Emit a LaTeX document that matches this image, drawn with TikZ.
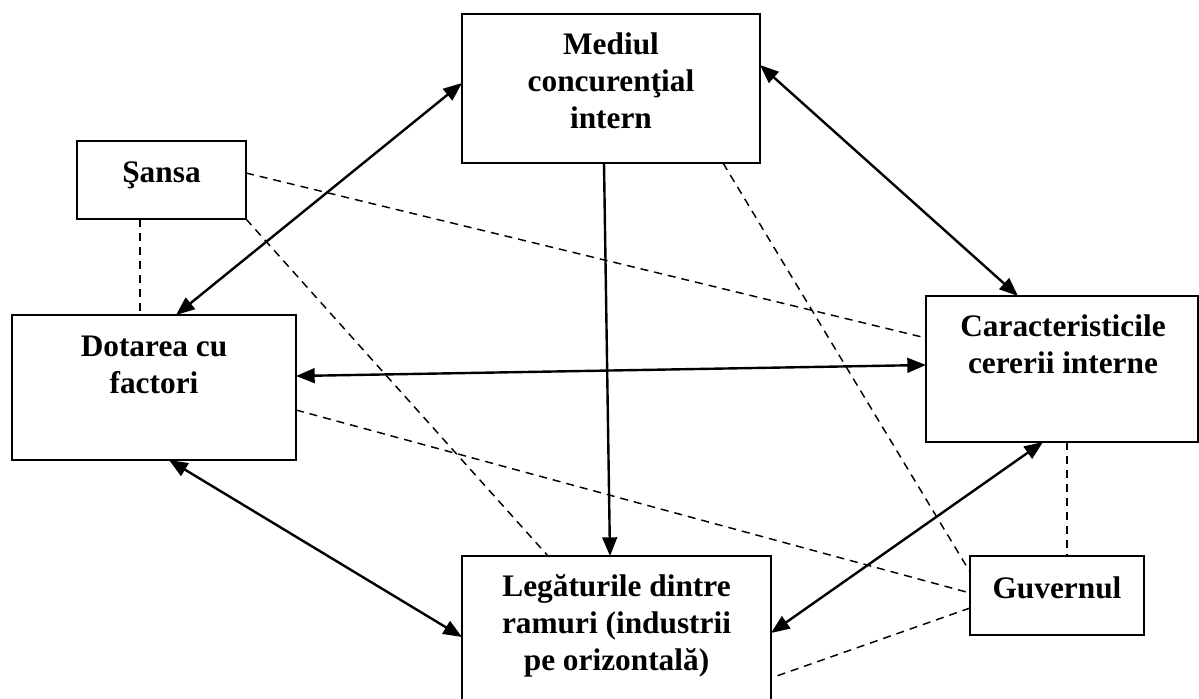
\documentclass[tikz,border=0pt]{standalone}
\usepackage{fontspec}
\setmainfont{Liberation Serif}
\usetikzlibrary{arrows.meta,calc}
\tikzset{
  box/.style={draw, line width=1.4pt, rectangle, inner sep=0pt, outer sep=0pt, fill=none},
  lbl/.style={font=\fontsize{23.5pt}{27.5pt}\selectfont\bfseries, align=center, anchor=base, inner sep=0pt},
  link/.style={line width=1.8pt, {Triangle[length=14pt,width=11pt]}-{Triangle[length=14pt,width=11pt]}},
  onelink/.style={line width=1.8pt, -{Triangle[length=14pt,width=11pt]}},
  weak/.style={line width=1.1pt, dash pattern=on 6pt off 4.5pt}
}
\begin{document}
\begin{tikzpicture}[x=0.75pt,y=-0.75pt]
\useasboundingbox (0,0) rectangle (1199,699);
\clip (0,0) rectangle (1199,699);
\fill[white] (0,0) rectangle (1199,699);
% boxes
\node[box, minimum width=223.5pt, minimum height=111.75pt] (med) at (611,88.5) {};
\node[box, minimum width=126.75pt, minimum height=58.5pt] (san) at (161.5,180) {};
\node[box, minimum width=213pt, minimum height=108.75pt] (dot) at (154,387.5) {};
\node[box, minimum width=204pt, minimum height=109.5pt] (car) at (1062,369) {};
\node[box, minimum width=231.75pt, minimum height=130.5pt] (leg) at (616.5,643) {};
\node[box, minimum width=130.5pt, minimum height=59.25pt] (guv) at (1057,595.5) {};
% labels (base anchor = baseline of the last line)
\node[lbl] (tmed) at (611,128) {Mediul\\concurenţial\\intern};
\node[lbl] (tsan) at (161.5,182) {Şansa};
\node[lbl] (tdot) at (154,393) {Dotarea cu\\factori};
\node[lbl] (tcar) at (1063,373) {Caracteristicile\\cererii interne};
\node[lbl] (tleg) at (616.5,670) {Legăturile dintre\\ramuri (industrii\\pe orizontală)};
\node[lbl] (tguv) at (1057,598) {Guvernul};
% solid connectors
\draw[link] ($(med.north west)+(0,69)$) -- ($(dot.north west)+(164,0)$);
\draw[link] ($(med.north east)+(0,51)$) -- ($(car.north west)+(92,0)$);
\draw[onelink] ($(med.south west)+(142,0)$) -- ($(leg.north west)+(148,0)$);
\draw[link] ($(dot.north east)+(0,61)$) -- ($(car.north west)+(0,69)$);
\draw[link] ($(dot.south west)+(157,0)$) -- ($(leg.north west)+(0,81)$);
\draw[link] ($(car.south west)+(117,0)$) -- ($(leg.north east)+(0,77)$);
% dashed connectors
\draw[weak] ($(san.south west)+(63,0)$) -- ($(dot.north west)+(128,0)$);
\draw[weak] ($(san.north east)+(0,32)$) -- ($(car.north west)+(0,42)$);
\draw[weak] (san.south east) -- ($(leg.north west)+(86,0)$);
\draw[weak] ($(med.south west)+(261,0)$) -- ($(guv.north west)+(0,16)$);
\draw[weak] ($(dot.north east)+(0,95)$) -- ($(guv.north west)+(0,37)$);
\draw[weak] ($(guv.north west)+(0,52)$) -- ($(leg.north east)+(0,122)$);
\draw[weak] ($(car.south west)+(141,0)$) -- ($(guv.north west)+(97,0)$);
\end{tikzpicture}
\end{document}
